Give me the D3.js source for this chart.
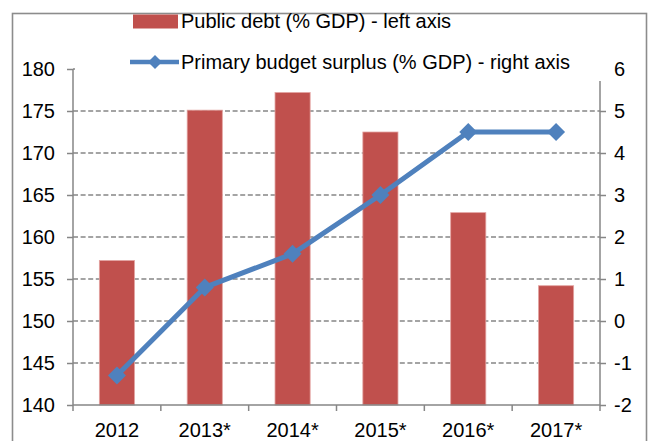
<!DOCTYPE html>
<html>
<head>
<meta charset="utf-8">
<script src="https://cdnjs.cloudflare.com/ajax/libs/d3/7.8.5/d3.min.js"></script>
<style>
  html, body { margin: 0; padding: 0; background: #fff; }
  svg { display: block; font-family: "Liberation Sans", Arial, sans-serif; }
</style>
</head>
<body>
<svg id="chart" width="650" height="441"></svg>
<script>
// Greek public finances: debt (bars, left axis) and primary surplus (line, right axis)
const years = ["2012", "2013*", "2014*", "2015*", "2016*", "2017*"];
const publicDebt = [157.2, 175.1, 177.2, 172.5, 162.9, 154.2];
const primarySurplus = [-1.3, 0.8, 1.6, 3.0, 4.5, 4.5];
const leftTicks = [140, 145, 150, 155, 160, 165, 170, 175, 180];
const rightTicks = [-2, -1, 0, 1, 2, 3, 4, 5, 6];
const legendLabels = ["Public debt (% GDP) - left axis", "Primary budget surplus (% GDP) - right axis"];

const barColor = "#C0504D";
const lineColor = "#4F81BD";
const axisColor = "#868686";
const fontSize = "20px";

const svg = d3.select("#chart");
const plot = { left: 73, right: 600, top: 69, bottom: 405 };

// Outer chart frame
svg.append("rect")
  .attr("x", 12.5).attr("y", 13.5)
  .attr("width", 634).attr("height", 450)
  .attr("fill", "none").attr("stroke", "#8c8c8c").attr("stroke-width", 1.6);

const x = d3.scaleBand().domain(years)
  .range([plot.left, plot.right])
  .paddingInner(0.6).paddingOuter(0.3);
const xBounds = d3.scaleBand().domain(years).range([plot.left, plot.right]);
const yL = d3.scaleLinear().domain([140, 180]).range([plot.bottom, plot.top]);
const yR = d3.scaleLinear().domain([-2, 6]).range([plot.bottom, plot.top]);

// Dashed horizontal gridlines
svg.append("g").selectAll("line").data(leftTicks.filter(t => t !== 140)).join("line")
  .attr("x1", plot.left).attr("x2", plot.right)
  .attr("y1", d => yL(d)).attr("y2", d => yL(d))
  .attr("stroke", axisColor).attr("stroke-width", 1.5)
  .attr("stroke-dasharray", "5,2.6");

// Bars
svg.append("g").selectAll("rect").data(years).join("rect")
  .attr("x", d => x(d)).attr("width", x.bandwidth())
  .attr("y", (d, i) => yL(publicDebt[i]))
  .attr("height", (d, i) => plot.bottom - yL(publicDebt[i]))
  .attr("fill", barColor)
  .attr("stroke", "#E3A3A1").attr("stroke-width", 0.8);

// Left axis
const gL = svg.append("g").attr("transform", `translate(${plot.left},0)`)
  .call(d3.axisLeft(yL).tickValues(leftTicks).tickSize(6).tickPadding(12).tickFormat(d => String(d)));
// Right axis
const gR = svg.append("g").attr("transform", `translate(${plot.right},0)`)
  .call(d3.axisRight(yR).tickValues(rightTicks).tickSize(6).tickPadding(8).tickFormat(d => String(d)));
// Bottom axis with ticks at category boundaries
const gB = svg.append("g").attr("transform", `translate(0,${plot.bottom})`)
  .call(d3.axisBottom(x).tickSize(0).tickPadding(18));
gB.selectAll(".bound").data(years.concat(["end"])).join("line")
  .attr("class", "bound")
  .attr("x1", (d, i) => i < years.length ? xBounds(d) : plot.right)
  .attr("x2", (d, i) => i < years.length ? xBounds(d) : plot.right)
  .attr("y1", 0).attr("y2", 6)
  .attr("stroke", axisColor).attr("stroke-width", 1.5);

[gL, gR, gB].forEach(g => {
  g.select(".domain").attr("stroke", axisColor).attr("stroke-width", 1.5);
  g.selectAll(".tick line").attr("stroke", axisColor).attr("stroke-width", 1.5);
  g.selectAll("text").attr("fill", "#000").style("font-size", fontSize)
    .style("font-family", "'Liberation Sans', Arial, sans-serif");
});
gB.select(".domain").attr("d", `M${plot.left},0H${plot.right}`);
gR.select(".domain").attr("d", `M0,${plot.top}V${plot.bottom}`);
gL.select(".domain").attr("d", `M0,${plot.top}V${plot.bottom}`);

// Primary surplus line with diamond markers
const diamond = r => `M0,${-r}L${r},0L0,${r}L${-r},0Z`;
const lineGen = d3.line()
  .x((d, i) => x(years[i]) + x.bandwidth() / 2)
  .y(d => yR(d));
svg.append("path").datum(primarySurplus)
  .attr("d", lineGen).attr("fill", "none")
  .attr("stroke", lineColor).attr("stroke-width", 5).attr("stroke-linejoin", "round");
svg.append("g").selectAll("path").data(primarySurplus).join("path")
  .attr("transform", (d, i) => `translate(${x(years[i]) + x.bandwidth() / 2},${yR(d)})`)
  .attr("d", diamond(9)).attr("fill", lineColor);

// Legend (white box over the top of the plot)
const legend = svg.append("g");
legend.append("rect").attr("x", 75).attr("y", 15).attr("width", 532).attr("height", 66)
  .attr("fill", "#fff");
legend.append("rect").attr("x", 133).attr("y", 14.5).attr("width", 45).attr("height", 14)
  .attr("fill", barColor);
legend.append("line").attr("x1", 130).attr("x2", 179).attr("y1", 62).attr("y2", 62)
  .attr("stroke", lineColor).attr("stroke-width", 4.5);
legend.append("path").attr("transform", "translate(155,62)").attr("d", diamond(7)).attr("fill", lineColor);
legend.selectAll("text").data(legendLabels).join("text")
  .attr("x", 181).attr("y", (d, i) => i === 0 ? 28 : 69)
  .style("font-size", fontSize).attr("fill", "#000")
  .text(d => d);
</script>
</body>
</html>
